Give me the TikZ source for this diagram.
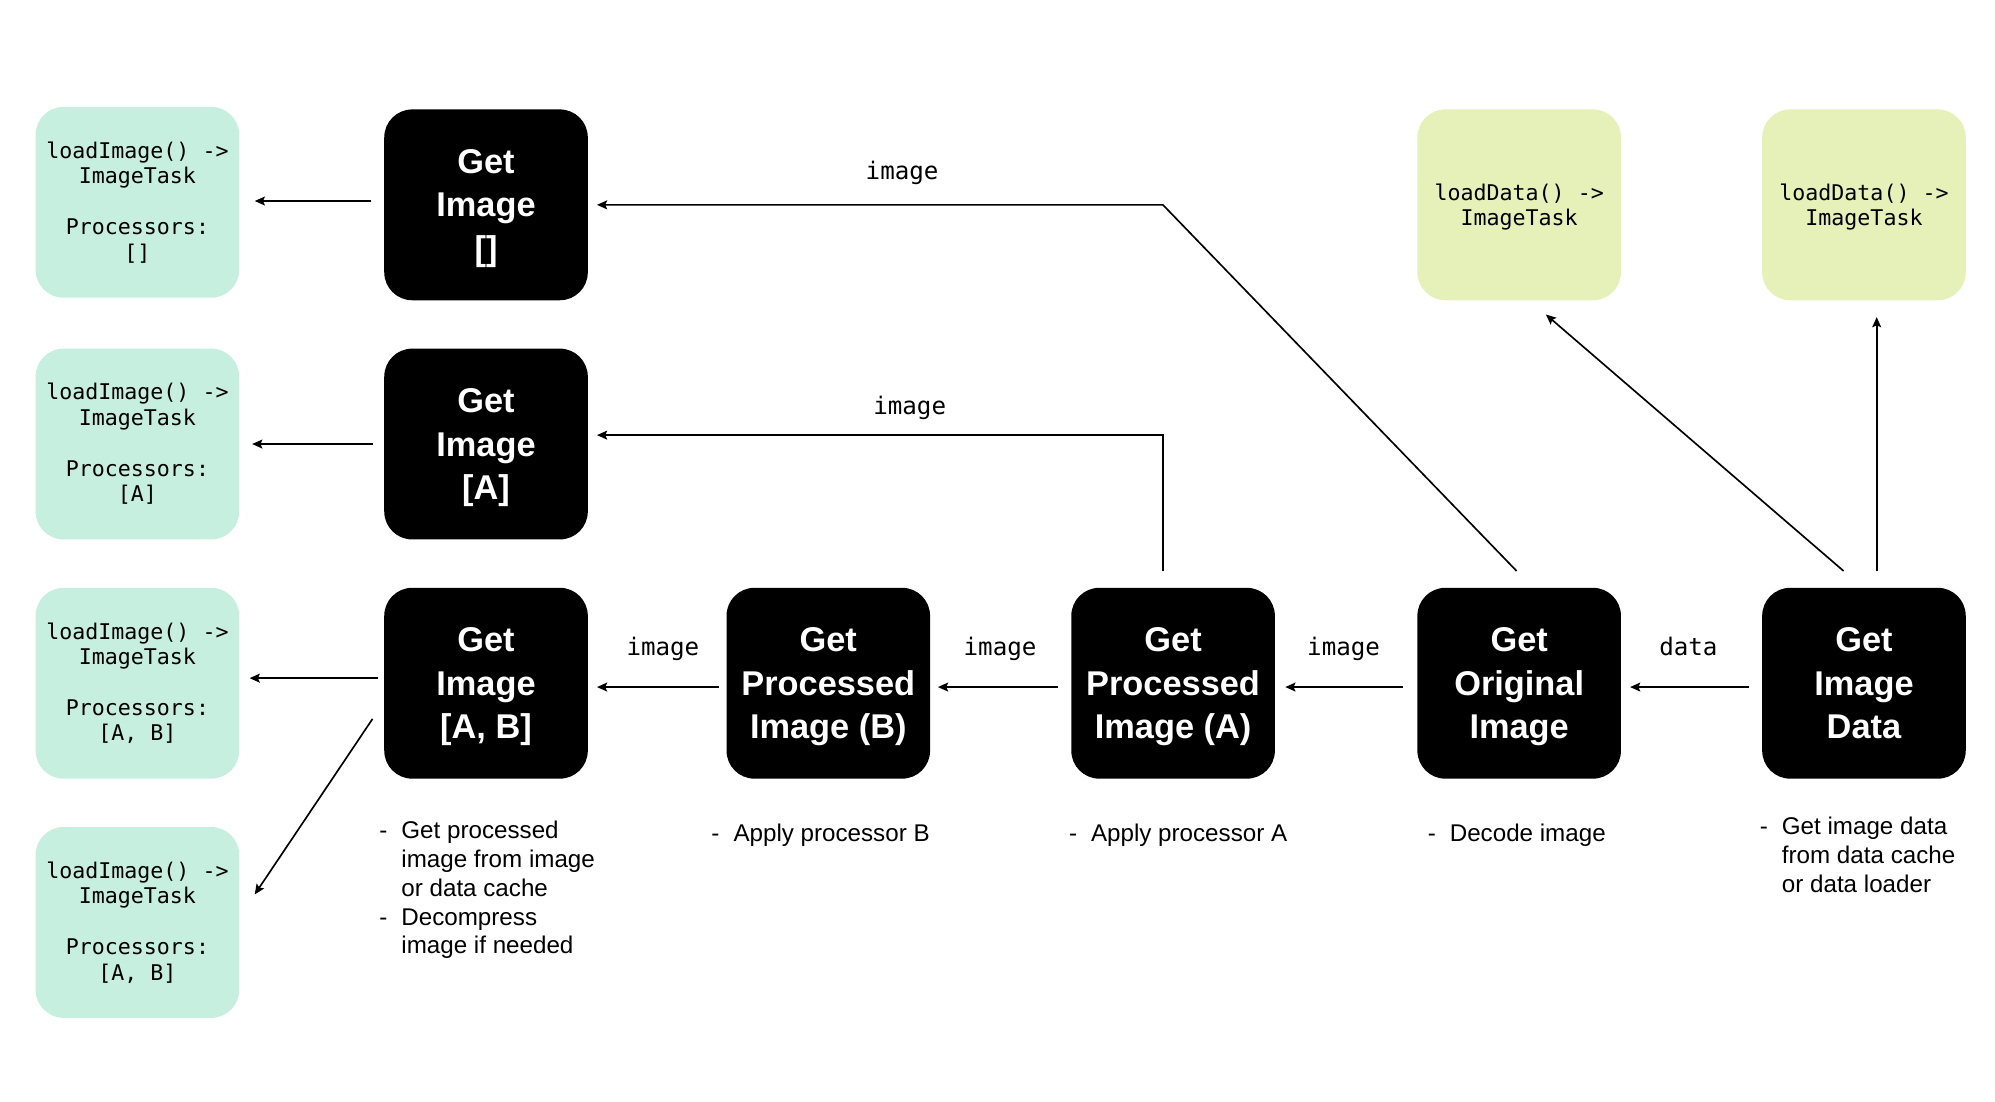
\documentclass[tikz,border=0pt]{standalone}
\usepackage{fontspec}
\setmainfont{Liberation Sans}
\setmonofont{DejaVu Sans Mono}
\usetikzlibrary{arrows.meta,calc}
\definecolor{mint}{HTML}{C6EFE0}
\definecolor{lime}{HTML}{E6F0B9}
\newcommand\nodp[1]{\raisebox{0pt}[\height][0pt]{#1}}
\begin{document}
\begin{tikzpicture}[x=1pt,y=-1pt,
  blk/.style={fill=black,rounded corners=22pt,minimum width=160pt,minimum height=150pt,inner sep=0pt,
    text=white,align=center,font=\fontsize{27}{34}\selectfont\bfseries},
  grn/.style={fill=mint,rounded corners=22pt,minimum width=160pt,minimum height=150pt,inner sep=0pt,
    align=center,font=\fontsize{17}{20}\selectfont\ttfamily},
  ylw/.style={grn,fill=lime},
  lbl/.style={anchor=base,inner sep=0pt,font=\fontsize{19}{22}\selectfont\ttfamily},
  desc/.style={anchor=base west,inner sep=0pt,font=\fontsize{19}{22.7}\selectfont},
  arr/.style={line width=1.3pt,-{Stealth[length=8pt,width=7pt,inset=1.5pt]}},
]
\path[use as bounding box] (0,0) rectangle (1568,866);

% green result boxes
\node[grn] (g1) at (108,159) {loadImage() ->\\ImageTask\\[20pt]Processors:\\{[]}};
\node[grn] (g2) at (108,349) {loadImage() ->\\ImageTask\\[20pt]Processors:\\{[A]}};
\node[grn] (g3) at (108,537) {loadImage() ->\\ImageTask\\[20pt]Processors:\\{[A, B]}};
\node[grn] (g4) at (108,725) {loadImage() ->\\ImageTask\\[20pt]Processors:\\{[A, B]}};

% yellow boxes
\node[ylw] (y1) at (1194,161) {loadData() ->\\\nodp{ImageTask}};
\node[ylw] (y2) at (1465,161) {loadData() ->\\\nodp{ImageTask}};

% black operation boxes
\node[blk] (b1) at (382,161) {Get\\Image\\\nodp{[]}};
\node[blk] (b2) at (382,349) {Get\\Image\\\nodp{[A]}};
\node[blk] (b3) at (382,537) {Get\\Image\\\nodp{[A, B]}};
\node[blk] (b4) at (651,537) {Get\\Processed\\\nodp{Image (B)}};
\node[blk] (b5) at (922,537) {Get\\Processed\\\nodp{Image (A)}};
\node[blk] (b6) at (1194,537) {Get\\Original\\\nodp{Image}};
\node[blk] (b7) at (1465,537) {Get\\Image\\\nodp{Data}};

% arrows to green boxes
\draw[arr,shorten <=10pt,shorten >=12pt] ([yshift=3pt]b1.west) -- ([yshift=3pt]b1.west -| g1.east);
\draw[arr,shorten <=9pt,shorten >=10pt] (b2.west) -- (b2.west -| g2.east);
\draw[arr,shorten <=5pt,shorten >=8pt] ([yshift=4pt]b3.west) -- ([yshift=4pt]b3.west -| g3.east);
\coordinate (d1) at ([xshift=-9pt,yshift=-28pt]b3.west);
\coordinate (d2) at ([xshift=12pt,yshift=22pt]g4.east);
\draw[arr] (d1) -- (d2);

% row arrows
\draw[arr,shorten <=6pt,shorten >=7pt] ([yshift=-3pt]b4.west) -- ([yshift=-3pt]b4.west -| b3.east);
\draw[arr,shorten <=10pt,shorten >=6pt] ([yshift=-3pt]b5.west) -- ([yshift=-3pt]b5.west -| b4.east);
\draw[arr,shorten <=11pt,shorten >=8pt] ([yshift=-3pt]b6.west) -- ([yshift=-3pt]b6.west -| b5.east);
\draw[arr,shorten <=10pt,shorten >=7pt] ([yshift=-3pt]b7.west) -- ([yshift=-3pt]b7.west -| b6.east);
\node[lbl] (l3) at (521,515) {image};
\node[lbl] (l4) at (786,515) {image};
\node[lbl] (l5) at (1056,515) {image};
\node[lbl] (l6) at (1327,515) {data};

% long arrows to top rows
\coordinate (k1) at (914,161);
\coordinate (s1) at ([xshift=-2pt,yshift=13pt]b6.north);
\draw[arr,shorten >=7pt] (s1) -- (k1) -- (k1 -| b1.east);
\node[lbl] (l1) at (709,141) {image};
\coordinate (k2) at (914,342);
\draw[arr,shorten <=13pt,shorten >=7pt] (b5.north -| k2) -- (k2) -- (k2 -| b2.east);
\node[lbl] (l2) at (715,326) {image};

% arrows to yellow boxes
\coordinate (e1) at ([xshift=-16pt,yshift=13pt]b7.north);
\coordinate (f1) at ([xshift=21pt,yshift=-11pt]y1.south);
\draw[arr] (e1) -- (f1);
\coordinate (e2) at ([xshift=10pt,yshift=13pt]b7.north);
\coordinate (f2) at ([xshift=10pt,yshift=-13pt]y2.south);
\draw[arr] (e2) -- (f2);

% descriptions
\node[desc] (t3) at (298,659) {\begin{tabular}[t]{@{}l@{\hspace{11pt}}l@{}}-&Get processed\\&image from image\\&or data cache\\-&Decompress\\&image if needed\end{tabular}};
\node[desc] (t4) at (559,661) {\begin{tabular}[t]{@{}l@{\hspace{11pt}}l@{}}-&Apply processor B\end{tabular}};
\node[desc] (t5) at (840,661) {\begin{tabular}[t]{@{}l@{\hspace{11pt}}l@{}}-&Apply processor A\end{tabular}};
\node[desc] (t6) at (1122,661) {\begin{tabular}[t]{@{}l@{\hspace{11pt}}l@{}}-&Decode image\end{tabular}};
\node[desc] (t7) at (1383,656) {\begin{tabular}[t]{@{}l@{\hspace{11pt}}l@{}}-&Get image data\\&from data cache\\&or data loader\end{tabular}};
\end{tikzpicture}
\end{document}
